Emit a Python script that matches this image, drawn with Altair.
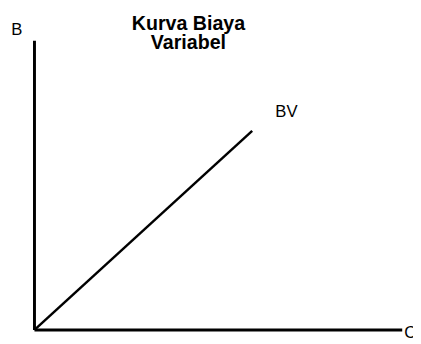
import altair as alt
import pandas as pd

# Axis extents (data units)
axis_start = [0, 0]
axis_end_x = [0, 100]
axis_end_y = [100, 0]

# Variable cost curve BV (quantity vs cost)
quantity = [0, 59.2]
cost = [0, 68.8]

# Labels
label_text = ["B", "BV", "C"]
label_x = [-4.8, 68.5, 102.2]
label_y = [103.7, 75.3, -1.0]

title_lines = ["Kurva Biaya", "Variabel"]

FONT = "Liberation Sans"
x_scale = alt.Scale(domain=[0, 100], range=[27, 402], nice=False, zero=False)
y_scale = alt.Scale(domain=[0, 100], range=[325, 30], nice=False, zero=False)

axes_df = pd.DataFrame({"x": axis_start, "y": axis_start, "x2": axis_end_x, "y2": axis_end_y})
axes = alt.Chart(axes_df).mark_rule(color="black", strokeWidth=3).encode(
    x=alt.X("x:Q", scale=x_scale, axis=None),
    y=alt.Y("y:Q", scale=y_scale, axis=None),
    x2="x2:Q",
    y2="y2:Q",
)

line_df = pd.DataFrame({"q": quantity, "c": cost})
line = alt.Chart(line_df).mark_line(color="black", strokeWidth=2.5).encode(
    x=alt.X("q:Q", scale=x_scale, axis=None),
    y=alt.Y("c:Q", scale=y_scale, axis=None),
)

lab_df = pd.DataFrame({"t": label_text, "x": label_x, "y": label_y})
labels = alt.Chart(lab_df).mark_text(font=FONT, fontSize=17, color="black").encode(
    x=alt.X("x:Q", scale=x_scale, axis=None),
    y=alt.Y("y:Q", scale=y_scale, axis=None),
    text="t:N",
)

title = alt.Chart(pd.DataFrame({"k": [0]})).mark_text(
    text=title_lines, font=FONT, fontSize=20, fontWeight="bold",
    lineHeight=20, baseline="alphabetic", align="center", color="black",
).encode(x=alt.value(184), y=alt.value(19))

chart = alt.layer(axes, line, labels, title).properties(
    width=413, height=336, autosize=alt.AutoSizeParams(type="none"), padding=0,
    background="white",
).configure_view(stroke=None)

chart.save("out.html", embed_options={"renderer": "svg", "actions": False})
